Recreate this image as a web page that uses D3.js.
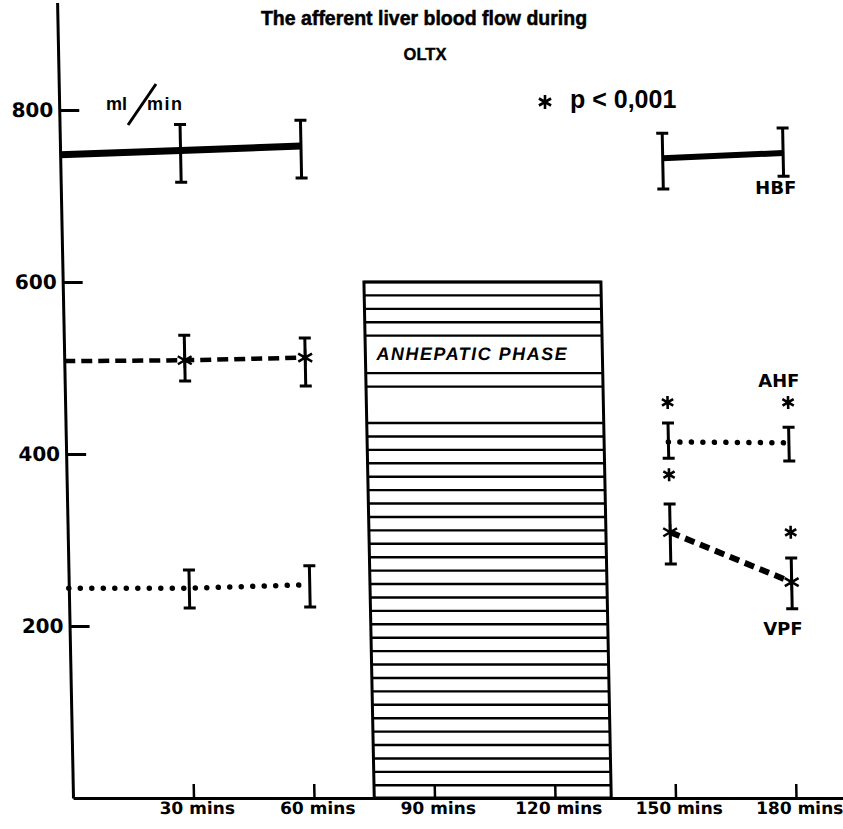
<!DOCTYPE html>
<html><head><meta charset="utf-8">
<script src="https://cdn.jsdelivr.net/npm/d3@7"></script>
<style>
body{margin:0;background:#fff}
svg{display:block}
</style>
</head><body>
<svg id="chart" width="843" height="829"></svg>
<script>
// ---------- data ----------
const timesPre = [0, 30, 60];
const timesPost = [150, 180];
const errTimes = [30, 60, 150, 180];

const hbfMeanPre = [748, 753, 758];
const hbfMeanPost = [744, 750];
const hbfErrLow = [716, 721, 708, 723];
const hbfErrHigh = [783, 788, 773, 779];

const vpfMeanPre = [508, 509, 512];
const vpfMeanPost = [309, 251];
const vpfErrLow = [485, 479, 272, 220];
const vpfErrHigh = [538, 535, 342, 279];

const ahfMeanPre = [244, 244, 248];
const ahfMeanPost = [414, 413];
const ahfErrLow = [221, 222, 395, 392];
const ahfErrHigh = [265, 270, 436, 431];

const sigTimes = [150, 180, 150, 180];
const sigValues = [460, 460, 376, 309];

const anhepaticStart = 75, anhepaticEnd = 134, anhepaticTop = 600;
const hatchBands = [[600, 537], [494, 478], [436, 10]];
const hatchStep = 15.6;

const yTicks = [200, 400, 600, 800];
const xTicks = [30, 60, 90, 120, 150, 180];
const xTickLabels = ["30 mins", "60 mins", "90 mins", "120 mins", "150 mins", "180 mins"];

// ---------- scales ----------
const svg = d3.select("#chart");
const x = d3.scaleLinear().domain([0, 192]).range([73, 73 + 192 * 4.0167]);
const y = d3.scaleLinear().domain([0, 925]).range([798, 798 - 925 * 0.86]);

const skew = 0.02;
const g = svg.append("g")
  .attr("transform", `translate(${-skew * y(0)},0) skewX(${Math.atan(skew) * 180 / Math.PI})`);

// ---------- anhepatic box ----------
g.append("rect")
  .attr("x", x(anhepaticStart)).attr("y", y(anhepaticTop))
  .attr("width", x(anhepaticEnd) - x(anhepaticStart))
  .attr("height", y(0) - y(anhepaticTop))
  .attr("fill", "#fff").attr("stroke", "#000").attr("stroke-width", 3);

const hatchVals = [];
hatchBands.forEach(([top, bot]) => {
  for (let v = top; v >= bot; v -= hatchStep) hatchVals.push(v);
});
g.append("g").selectAll("line").data(hatchVals).join("line")
  .attr("x1", x(anhepaticStart)).attr("x2", x(anhepaticEnd))
  .attr("y1", d => y(d)).attr("y2", d => y(d))
  .attr("stroke", "#000").attr("stroke-width", 2.4);

g.append("text")
  .attr("x", x(anhepaticStart) + 11).attr("y", y(509))
  .attr("font-family", "Liberation Sans, Arial, sans-serif")
  .attr("font-weight", "bold").attr("font-style", "italic")
  .attr("font-size", 18).attr("letter-spacing", 1.5)
  .text("ANHEPATIC PHASE");

// ---------- axes ----------
const yAxis = d3.axisLeft(y).tickValues(yTicks).tickSizeInner(-20).tickSizeOuter(0).tickPadding(6);
const yg = g.append("g").attr("transform", `translate(${x(0)},0)`).call(yAxis);
yg.select(".domain").attr("stroke-width", 3);
yg.selectAll(".tick line").attr("stroke-width", 3);
yg.selectAll(".tick text")
  .attr("font-family", "DejaVu Sans, sans-serif").attr("font-weight", "bold")
  .attr("font-size", 20).attr("fill", "#000");

const xAxis = d3.axisBottom(x).tickValues(xTicks)
  .tickFormat((d, i) => xTickLabels[i])
  .tickSizeInner(-14).tickSizeOuter(0).tickPadding(4);
const xg = g.append("g").attr("transform", `translate(0,${y(0)})`).call(xAxis);
xg.select(".domain").attr("stroke-width", 3);
xg.selectAll(".tick line").attr("stroke-width", 2.5);
xg.selectAll(".tick text")
  .attr("font-family", "DejaVu Sans, sans-serif").attr("font-weight", "bold")
  .attr("font-size", 17).attr("fill", "#000").attr("dx", 3);

// ---------- series ----------
const line = d3.line().x(d => x(d[0])).y(d => y(d[1]));
const zip = (a, b) => a.map((v, i) => [v, b[i]]);

function drawSeries(pts, opts) {
  g.append("path").attr("d", line(pts))
    .attr("fill", "none").attr("stroke", "#000")
    .attr("stroke-width", opts.w)
    .attr("stroke-dasharray", opts.dash || null)
    .attr("stroke-linecap", opts.cap || "butt");
}
// HBF solid
drawSeries(zip(timesPre, hbfMeanPre), {w: 7});
drawSeries(zip(timesPost, hbfMeanPost), {w: 6});
// VPF dashed
drawSeries(zip(timesPre, vpfMeanPre), {w: 4.5, dash: "11 6"});
drawSeries(zip(timesPost, vpfMeanPost), {w: 6, dash: "10 6"});
// AHF dotted
drawSeries(zip(timesPre, ahfMeanPre), {w: 5.5, dash: "0 11.5", cap: "round"});
drawSeries(zip(timesPost, ahfMeanPost), {w: 5.5, dash: "0 11.5", cap: "round"});

// error bars
function errorBars(lo, hi) {
  const eg = g.append("g").attr("stroke", "#000").attr("stroke-width", 3);
  errTimes.forEach((t, i) => {
    const cx = x(t);
    eg.append("line").attr("x1", cx).attr("x2", cx).attr("y1", y(lo[i])).attr("y2", y(hi[i]));
    eg.append("line").attr("x1", cx - 6).attr("x2", cx + 6).attr("y1", y(lo[i])).attr("y2", y(lo[i]));
    eg.append("line").attr("x1", cx - 6).attr("x2", cx + 6).attr("y1", y(hi[i])).attr("y2", y(hi[i]));
  });
}
errorBars(hbfErrLow, hbfErrHigh);
errorBars(vpfErrLow, vpfErrHigh);
errorBars(ahfErrLow, ahfErrHigh);

// asterisk symbol
function asterisk(r) {
  const t = r / 2, u = t * Math.sqrt(3);
  return `M0,${-r}L0,${r}M${-u},${-t}L${u},${t}M${-u},${t}L${u},${-t}`;
}
// markers on VPF points
const vpfMarkers = zip(errTimes, vpfMeanPre.slice(1).concat(vpfMeanPost));
g.append("g").selectAll("path").data(vpfMarkers).join("path")
  .attr("d", asterisk(8))
  .attr("transform", d => `translate(${x(d[0])},${y(d[1])})`)
  .attr("stroke", "#000").attr("stroke-width", 2.5).attr("fill", "none");
// significance asterisks
g.append("g").selectAll("path").data(zip(sigTimes, sigValues)).join("path")
  .attr("d", asterisk(6.5))
  .attr("transform", d => `translate(${x(d[0])},${y(d[1])})`)
  .attr("stroke", "#000").attr("stroke-width", 2.6).attr("fill", "none");

// series labels
const lab = (txt, t, v) => g.append("text")
  .attr("x", x(t)).attr("y", y(v)).attr("text-anchor", "middle")
  .attr("font-family", "DejaVu Sans, sans-serif").attr("font-weight", "bold")
  .attr("font-size", 18).text(txt);
lab("HBF", 178, 702);
lab("AHF", 177.8, 478);
lab("VPF", 177.6, 189.5);

// ---------- titles & annotations ----------
svg.append("text").attr("x", 424).attr("y", 25).attr("text-anchor", "middle")
  .attr("font-family", "Liberation Sans, Arial, sans-serif").attr("font-weight", "bold")
  .attr("font-size", 19.5).attr("stroke", "#000").attr("stroke-width", 0.5)
  .text("The afferent liver blood flow during");
svg.append("text").attr("x", 425).attr("y", 60).attr("text-anchor", "middle")
  .attr("font-family", "Liberation Sans, Arial, sans-serif").attr("font-weight", "bold")
  .attr("font-size", 16.5).attr("stroke", "#000").attr("stroke-width", 0.4)
  .text("OLTX");

// ml / min
svg.append("text").attr("x", 106).attr("y", 110)
  .attr("font-family", "Liberation Sans, Arial, sans-serif").attr("font-weight", "bold")
  .attr("font-size", 18).text("ml");
svg.append("line").attr("x1", 128).attr("y1", 125).attr("x2", 156).attr("y2", 84)
  .attr("stroke", "#000").attr("stroke-width", 3);
svg.append("text").attr("x", 147).attr("y", 110)
  .attr("font-family", "Liberation Sans, Arial, sans-serif").attr("font-weight", "bold")
  .attr("font-size", 18).attr("letter-spacing", 1.5).text("min");

// significance legend
svg.append("path").attr("d", asterisk(7)).attr("transform", "translate(545,102)")
  .attr("stroke", "#000").attr("stroke-width", 2.6).attr("fill", "none");
svg.append("text").attr("x", 570).attr("y", 108)
  .attr("font-family", "Liberation Sans, Arial, sans-serif").attr("font-weight", "bold")
  .attr("font-size", 25).text("p < 0,001");
</script>
</body></html>
